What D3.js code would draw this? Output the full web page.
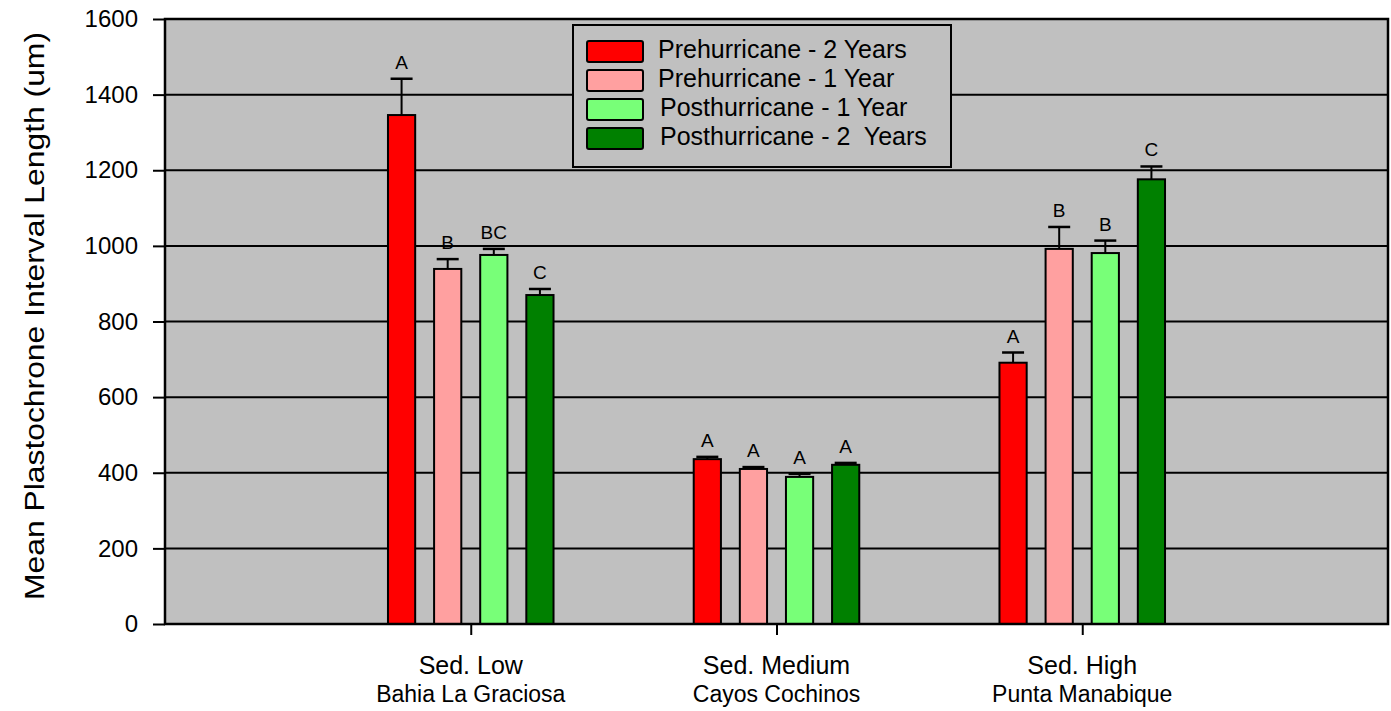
<!DOCTYPE html>
<html>
<head>
<meta charset="utf-8">
<script src="https://cdn.jsdelivr.net/npm/d3@7"></script>
<style>
  body { margin: 0; background: #fff; }
  text { font-family: Arial, "Liberation Sans", sans-serif; fill: #000; }
</style>
</head>
<body>
<div id="chart"></div>
<script>
// Data
const sites = ['Sed. Low', 'Sed. Medium', 'Sed. High']
const siteNames = ['Bahia La Graciosa', 'Cayos Cochinos', 'Punta Manabique']
const seriesNames = [
  'Prehurricane - 2 Years',
  'Prehurricane - 1 Year',
  'Posthurricane - 1 Year',
  'Posthurricane - 2  Years',
]
const seriesColors = ['#ff0000', '#ffa0a0', '#78ff78', '#008000']
// means per series, in site order
const means = [
  [1346, 436, 691],
  [939, 410, 992],
  [976, 389, 981],
  [870, 421, 1176],
]
// standard errors (upward bars only)
const errors = [
  [96, 6, 27],
  [26, 5, 58],
  [16, 8, 33],
  [16, 5, 34],
]
const letters = [
  ['A', 'A', 'A'],
  ['B', 'A', 'B'],
  ['BC', 'A', 'B'],
  ['C', 'A', 'C'],
]
const yTicks = [0, 200, 400, 600, 800, 1000, 1200, 1400, 1600]

const width = 1391
const height = 711
const margin = { top: 19, right: 3, bottom: 87, left: 165 }
const innerW = width - margin.left - margin.right
const innerH = height - margin.top - margin.bottom

const svg = d3
  .select('#chart')
  .append('svg')
  .attr('width', width)
  .attr('height', height)

const g = svg
  .append('g')
  .attr('transform', `translate(${margin.left},${margin.top})`)

// Scales
const x0 = d3.scalePoint().domain(sites).range([0, innerW]).padding(1)
const x1 = d3
  .scaleBand()
  .domain(d3.range(seriesNames.length))
  .range([-92, 92])
  .paddingInner(0.41)
  .paddingOuter(0.2)
const y = d3.scaleLinear().domain([0, 1600]).range([innerH, 0])

// Plot background
g.append('rect')
  .attr('width', innerW)
  .attr('height', innerH)
  .attr('fill', '#c0c0c0')

// Gridlines
g.selectAll('.grid')
  .data(yTicks.slice(1, -1))
  .enter()
  .append('line')
  .attr('x1', 0)
  .attr('x2', innerW)
  .attr('y1', d => y(d))
  .attr('y2', d => y(d))
  .attr('stroke', '#000')
  .attr('stroke-width', 2)

// Bars
const bars = []
means.forEach((row, s) => {
  row.forEach((v, i) => {
    bars.push({ s, site: sites[i], value: v, err: errors[s][i], letter: letters[s][i] })
  })
})

const barX = d => x0(d.site) + x1(d.s)
const barMid = d => barX(d) + x1.bandwidth() / 2

// error bars (drawn behind bars)
g.selectAll('.err')
  .data(bars)
  .enter()
  .append('line')
  .attr('x1', barMid)
  .attr('x2', barMid)
  .attr('y1', d => y(d.value))
  .attr('y2', d => y(d.value + d.err))
  .attr('stroke', '#000')
  .attr('stroke-width', 2)

g.selectAll('.cap')
  .data(bars)
  .enter()
  .append('line')
  .attr('x1', d => barMid(d) - 11)
  .attr('x2', d => barMid(d) + 11)
  .attr('y1', d => y(d.value + d.err))
  .attr('y2', d => y(d.value + d.err))
  .attr('stroke', '#000')
  .attr('stroke-width', 2.5)

g.selectAll('.bar')
  .data(bars)
  .enter()
  .append('rect')
  .attr('class', 'bar')
  .attr('x', barX)
  .attr('width', x1.bandwidth())
  .attr('y', d => y(d.value))
  .attr('height', d => innerH - y(d.value))
  .attr('fill', d => seriesColors[d.s])
  .attr('stroke', '#000')
  .attr('stroke-width', 2)

g.selectAll('.bar-label')
  .data(bars)
  .enter()
  .append('text')
  .attr('text-anchor', 'middle')
  .attr('x', barMid)
  .attr('y', d => y(d.value + d.err) - 10)
  .attr('font-size', 19)
  .text(d => d.letter)

// Plot frame
g.append('rect')
  .attr('width', innerW)
  .attr('height', innerH)
  .attr('fill', 'none')
  .attr('stroke', '#000')
  .attr('stroke-width', 2.5)

// Axes
const yAxis = d3
  .axisLeft(y)
  .tickValues(yTicks)
  .tickSize(12)
  .tickPadding(15)
  .tickFormat(d3.format('d'))
const yAxisEl = g.append('g').call(yAxis)
yAxisEl.select('.domain').remove()
yAxisEl.selectAll('line').attr('stroke', '#000').attr('stroke-width', 2)
yAxisEl
  .selectAll('text')
  .attr('font-size', 24)
  .attr('font-family', 'Arial, "Liberation Sans", sans-serif')

const xAxis = d3.axisBottom(x0).tickSize(11).tickFormat('')
const xAxisEl = g.append('g').attr('transform', `translate(0,${innerH})`).call(xAxis)
xAxisEl.select('.domain').remove()
xAxisEl.selectAll('line').attr('stroke', '#000').attr('stroke-width', 2)

sites.forEach((s, i) => {
  g.append('text')
    .attr('text-anchor', 'middle')
    .attr('x', x0(s))
    .attr('y', innerH + 50)
    .attr('font-size', 25)
    .text(s)
  g.append('text')
    .attr('text-anchor', 'middle')
    .attr('x', x0(s))
    .attr('y', innerH + 78)
    .attr('font-size', 23)
    .text(siteNames[i])
})

// Y axis title
svg.append('text')
  .attr('text-anchor', 'middle')
  .attr('transform', `translate(44,316) rotate(-90)`)
  .attr('font-size', 27)
  .attr('textLength', 568)
  .attr('lengthAdjust', 'spacingAndGlyphs')
  .text('Mean Plastochrone Interval Length (um)')

// Legend
const legend = svg.append('g').attr('transform', 'translate(573,25)')
legend.append('rect')
  .attr('width', 378)
  .attr('height', 142)
  .attr('fill', '#c0c0c0')
  .attr('stroke', '#000')
  .attr('stroke-width', 2)

const items = legend.selectAll('.item')
  .data(seriesNames)
  .enter()
  .append('g')
  .attr('transform', (d, i) => `translate(14,${16 + i * 29})`)

items.append('rect')
  .attr('width', 56)
  .attr('height', 21)
  .attr('rx', 2)
  .attr('fill', (d, i) => seriesColors[i])
  .attr('stroke', '#000')
  .attr('stroke-width', 2)

items.append('text')
  .attr('x', (d, i) => (i < 2 ? 71 : 73))
  .attr('y', 17)
  .attr('font-size', 25)
  .style('white-space', 'pre')
  .text(d => d)
</script>
</body>
</html>
